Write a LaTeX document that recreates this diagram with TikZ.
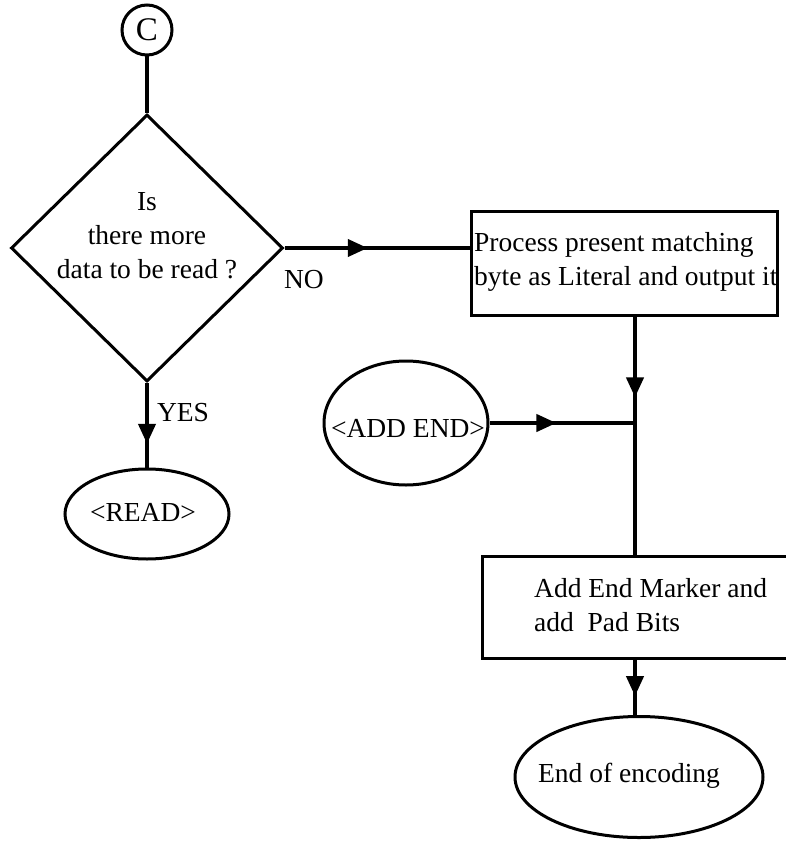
\documentclass[tikz,border=0pt]{standalone}
\usepackage{fontspec}
\setmainfont{Liberation Serif}
\usetikzlibrary{shapes.geometric,arrows.meta,decorations.markings}
\begin{document}
\begin{tikzpicture}[x=1pt,y=-1pt,
  txt/.style={font=\fontsize{27.5}{34}\selectfont, inner sep=0pt},
  shp/.style={draw, line width=3pt},
  conn/.style={line width=4pt},
  midarrow/.style={postaction={decorate}, decoration={markings,
     mark=at position #1 with {\arrow{Triangle[length=20pt,width=17pt]}}}}]
\useasboundingbox (0,0) rectangle (785,843);
% shapes
\node[shp, circle, minimum size=50pt, inner sep=0pt, font=\fontsize{33}{36}\selectfont] (c) at (147,30) {C};
\node[shp, diamond, minimum width=272pt, minimum height=267pt, inner sep=0pt] (dia) at (147,248) {};
\node[txt, align=center] (diatxt) at (147,236) {Is\\there more\\data to be read ?};
\node[shp, rectangle, minimum width=306pt, minimum height=104pt, inner sep=0pt] (box1) at (624,263) {};
\node[txt, anchor=west, align=left] (box1txt) at (474,262) {Process present matching\\byte as Literal and output it};
\node[shp, ellipse, minimum width=164pt, minimum height=124pt, inner sep=0pt] (addend) at (406,423) {};
\node[txt] (addendtxt) at (408,428) {<ADD END>};
\node[shp, ellipse, minimum width=164pt, minimum height=90pt, inner sep=0pt] (read) at (147,514) {};
\node[txt] (readtxt) at (143,512) {<READ>};
\node[shp, rectangle, minimum width=310pt, minimum height=102pt, inner sep=0pt] (box2) at (637,607) {};
\node[txt, anchor=west, align=left] (box2txt) at (534,605) {Add End Marker and\\add\ \ Pad Bits};
\node[shp, ellipse, minimum width=248pt, minimum height=121pt, inner sep=0pt] (endenc) at (639,777) {};
\node[txt] (endtxt) at (629,776) {End of encoding};
\node[txt] (no) at (304,280) {NO};
\node[txt] (yes) at (183,413) {YES};
% connectors
\coordinate (j) at (635,423);
\draw[conn] (c.south) -- (dia.north);
\draw[conn, midarrow=0.45] (dia.east) -- (dia.east -| box1.west);
\draw[conn, midarrow=0.72] (dia.south) -- (read.north);
\draw[conn, midarrow=0.34] (box1.south -| j) -- (box2.north -| j);
\draw[conn, midarrow=0.46] (addend.east) -- (j);
\draw[conn, midarrow=0.66] (box2.south -| j) -- (endenc.north -| j);
\end{tikzpicture}
\end{document}
